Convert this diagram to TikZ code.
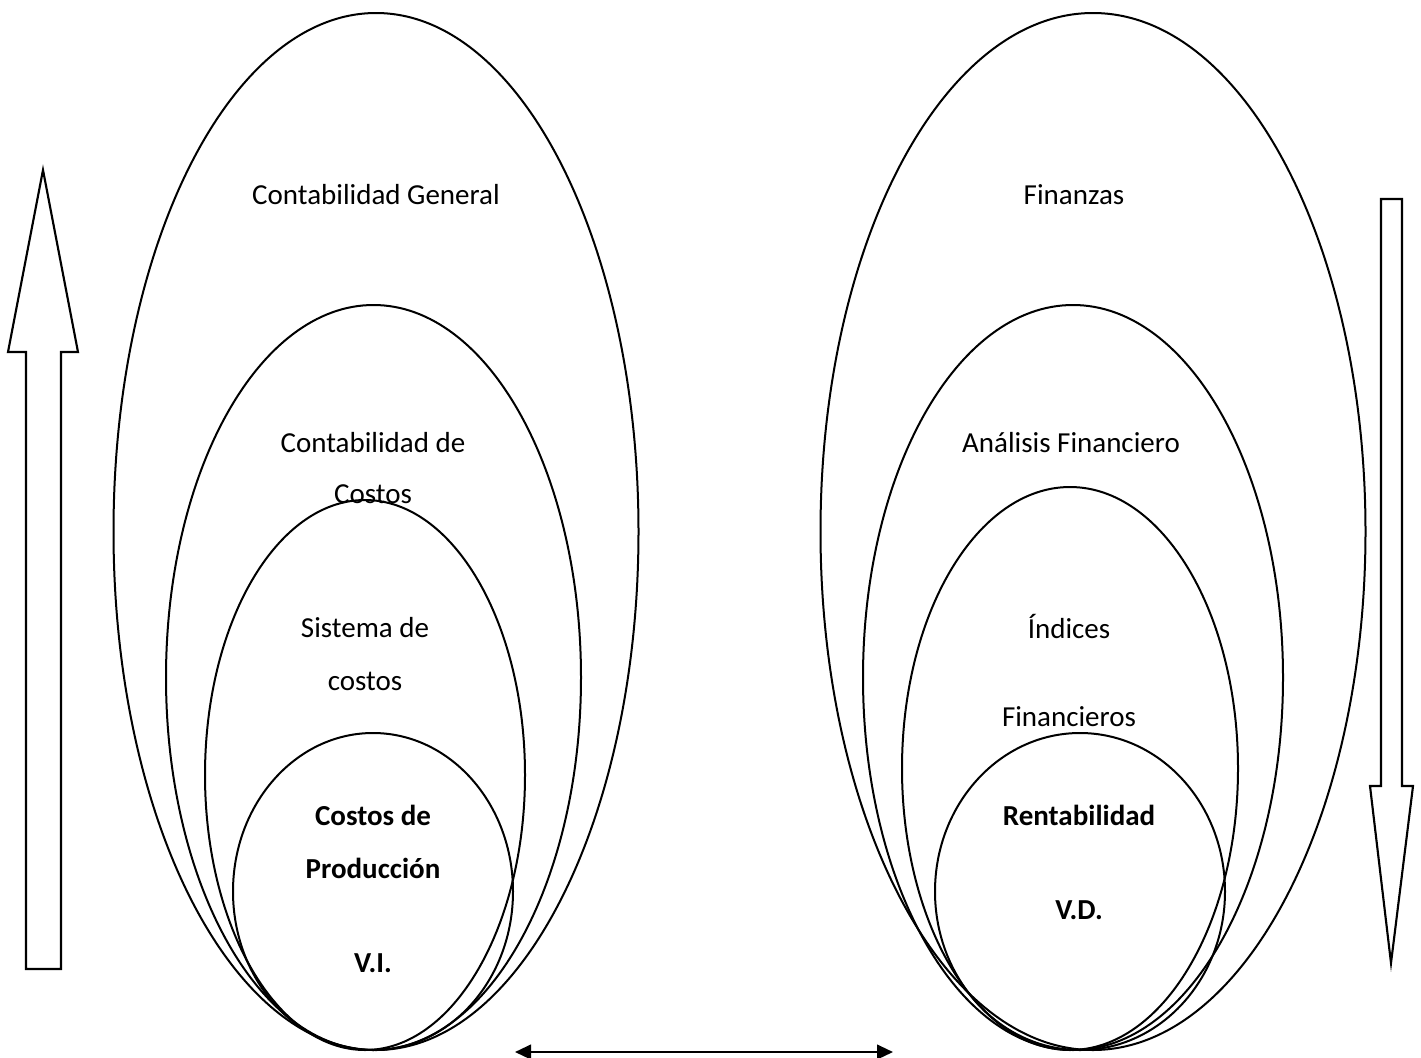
\documentclass[tikz,border=0pt]{standalone}
\usepackage{fontspec}
\setmainfont{Carlito}
\usetikzlibrary{shapes.geometric,arrows.meta}
\begin{document}
\begin{tikzpicture}[x=0.75pt,y=-0.75pt,
  line width=1.5pt,
  oval/.style={draw,ellipse,inner sep=0pt,line width=1.5pt},
  lbl/.style={font=\fontsize{21.75pt}{26pt}\selectfont,inner sep=0pt,anchor=center},
  blbl/.style={lbl,font=\fontsize{21.75pt}{26pt}\selectfont\bfseries},
  blockarrow/.style={draw,line width=1.6pt,line join=miter},
  dbl/.style={{Triangle[length=12pt,width=11pt]}-{Triangle[length=12pt,width=11pt]},line width=1.6pt}]
\useasboundingbox (0,0) rectangle (1421,1057);

% left nest: accounting
\node[oval,minimum width=393.75pt,minimum height=777.75pt] (genL) at (376,531.5) {};
\node[oval,minimum width=311.25pt,minimum height=558.75pt] (cosL) at (373.5,677.5) {};
\node[oval,minimum width=240pt,minimum height=412.5pt] (sisL) at (365,775) {};
\node[oval,minimum width=210pt,minimum height=237.75pt] (prodL) at (373,891.5) {};

% right nest: finance
\node[oval,minimum width=408.75pt,minimum height=777.75pt] (finR) at (1093,531.5) {};
\node[oval,minimum width=315pt,minimum height=558.75pt] (anaR) at (1073,677.5) {};
\node[oval,minimum width=252pt,minimum height=422.25pt] (indR) at (1070,768.5) {};
\node[oval,minimum width=217.5pt,minimum height=237.75pt] (renR) at (1080,891.5) {};

% labels, left
\node[lbl] (t1) at (376,195) {Contabilidad General};
\node[lbl] (t2) at (373,443) {Contabilidad de};
\node[lbl] (t3) at (373,494) {Costos};
\node[lbl] (t4) at (365,628) {Sistema de};
\node[lbl] (t5) at (365,681) {costos};
\node[blbl] (t6) at (373,815) {Costos de};
\node[blbl] (t7) at (373,868) {Producción};
\node[blbl] (t8) at (373,963) {V.I.};

% labels, right
\node[lbl] (r1) at (1074,195) {Finanzas};
\node[lbl] (r2) at (1071,443) {Análisis Financiero};
\node[lbl] (r3) at (1069,626) {Índices};
\node[lbl] (r4) at (1069,717) {Financieros};
\node[blbl] (r5) at (1079,815) {Rentabilidad};
\node[blbl] (r6) at (1079,910) {V.D.};

% block arrow pointing up
\draw[blockarrow] (26,969) -- (26,352) -- (8,352) -- (43,170) -- (78,352)
  -- (61,352) -- (61,969) -- cycle;
% block arrow pointing down
\draw[blockarrow] (1381,199) -- (1402,199) -- (1402,786) -- (1413,786)
  -- (1391,963) -- (1370,786) -- (1381,786) -- cycle;

% two-headed link between the nests
\coordinate (la) at (515,1052);
\coordinate (lb) at (893,1052);
\draw[dbl] (la) -- (lb);
\end{tikzpicture}
\end{document}
